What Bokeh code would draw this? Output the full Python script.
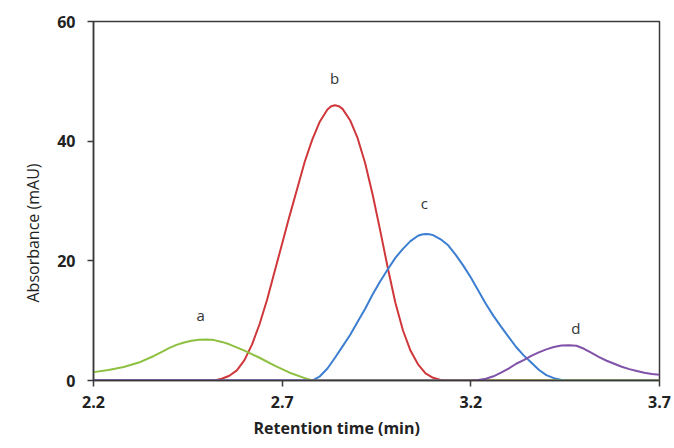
from bokeh.plotting import figure
from bokeh.models import Range1d, FixedTicker, Label, Title
from bokeh.embed import file_html
from bokeh.resources import INLINE

# ---- data ----
green_x = [2.20, 2.24, 2.28, 2.32, 2.36, 2.38, 2.40, 2.42, 2.44, 2.46, 2.48, 2.50, 2.52, 2.54, 2.56,
           2.60, 2.64, 2.68, 2.72, 2.76, 2.78, 3.70]
green_y = [1.4, 1.75, 2.25, 3.0, 4.1, 4.75, 5.4, 5.95, 6.35, 6.65, 6.8, 6.85, 6.75, 6.45, 6.05,
           5.0, 3.8, 2.5, 1.3, 0.4, 0.0, 0.0]

red_x = [2.20, 2.52, 2.54, 2.56, 2.58, 2.60, 2.62, 2.64, 2.66, 2.68, 2.70, 2.72, 2.74, 2.76, 2.78, 2.80,
         2.82, 2.83, 2.84, 2.85, 2.86, 2.88, 2.90, 2.92, 2.94, 2.96, 2.98, 3.00, 3.02, 3.04, 3.06, 3.08,
         3.10, 3.12, 3.13, 3.70]
red_y = [0.0, 0.0, 0.3, 0.8, 1.7, 3.4, 6.0, 9.4, 13.5, 18.2, 22.9, 27.6, 32.1, 36.6, 40.3, 43.3,
         45.3, 45.85, 46.0, 45.85, 45.4, 43.5, 40.5, 36.3, 31.0, 25.0, 18.8, 13.0, 8.4, 5.0, 2.7, 1.2,
         0.45, 0.1, 0.0, 0.0]

blue_x = [2.20, 2.78, 2.80, 2.82, 2.84, 2.86, 2.88, 2.90, 2.92, 2.94, 2.96, 2.98, 3.00, 3.02, 3.04, 3.06,
          3.07, 3.08, 3.09, 3.10, 3.12, 3.14, 3.16, 3.18, 3.20, 3.22, 3.24, 3.26, 3.28, 3.30, 3.32, 3.34,
          3.36, 3.38, 3.40, 3.42, 3.44, 3.45, 3.70]
blue_y = [0.0, 0.0, 0.7, 2.0, 3.8, 5.7, 7.6, 9.8, 12.0, 14.4, 16.6, 18.6, 20.5, 22.0, 23.3, 24.2,
          24.4, 24.5, 24.45, 24.3, 23.6, 22.6, 21.0, 19.2, 17.2, 15.0, 12.8, 10.8, 9.0, 7.3, 5.6, 4.2,
          3.0, 1.8, 0.9, 0.4, 0.1, 0.0, 0.0]

purple_x = [2.20, 3.20, 3.22, 3.24, 3.26, 3.28, 3.30, 3.32, 3.34, 3.36, 3.38, 3.40, 3.42, 3.44, 3.46,
            3.48, 3.50, 3.52, 3.54, 3.56, 3.58, 3.60, 3.62, 3.64, 3.66, 3.68, 3.70]
purple_y = [0.0, 0.0, 0.1, 0.3, 0.7, 1.3, 2.0, 2.8, 3.4, 4.1, 4.7, 5.2, 5.6, 5.85, 5.9,
            5.8, 5.3, 4.6, 3.9, 3.3, 2.8, 2.3, 1.9, 1.6, 1.3, 1.1, 0.95]

peak_labels = ["a", "b", "c", "d"]
peak_label_x = [2.484, 2.839, 3.077, 3.478]
peak_label_y = [10.9, 50.6, 29.6, 8.7]

x_ticks = [2.2, 2.7, 3.2, 3.7]
y_ticks = [0, 20, 40, 60]
x_title = "Retention time (min)"
y_title = "Absorbance (mAU)"

FONT = "Open Sans"
AXIS_COLOR = "#3a3a3a"

p = figure(width=674, height=448, output_backend="svg", toolbar_location=None,
           x_range=Range1d(2.2, 3.7), y_range=Range1d(0, 60))
p.min_border_left = 93
p.min_border_right = 15
p.min_border_top = 21
p.min_border_bottom = 68
p.background_fill_color = "white"
p.border_fill_color = "white"
p.outline_line_color = AXIS_COLOR
p.outline_line_width = 1.5
p.xgrid.visible = False
p.ygrid.visible = False

for ax in (p.xaxis[0], p.yaxis[0]):
    ax.axis_line_color = AXIS_COLOR
    ax.axis_line_width = 1.5
    ax.major_tick_line_color = AXIS_COLOR
    ax.major_tick_line_width = 1.5
    ax.major_tick_in = 0
    ax.major_tick_out = 6
    ax.minor_tick_line_color = None
    ax.major_label_text_font = FONT
    ax.major_label_text_font_style = "bold"
    ax.major_label_text_font_size = "16px"
    ax.major_label_text_color = "#222222"

p.xaxis[0].ticker = FixedTicker(ticks=x_ticks)
p.yaxis[0].ticker = FixedTicker(ticks=y_ticks)
p.xaxis[0].major_label_standoff = 9
p.yaxis[0].major_label_standoff = 12

p.line(red_x, red_y, line_color="#D0373B", line_width=2)
p.line(blue_x, blue_y, line_color="#3C7ED0", line_width=2)
p.line(green_x, green_y, line_color="#8DC040", line_width=2)
p.line(purple_x, purple_y, line_color="#8052A8", line_width=2)

for t, lx, ly in zip(peak_labels, peak_label_x, peak_label_y):
    p.add_layout(Label(x=lx, y=ly, text=t, text_align="center", text_baseline="middle",
                       text_font=FONT, text_font_size="15px", text_color="#333333"))

p.add_layout(Title(text=x_title, align="left", offset=160, standoff=12, vertical_align="top",
                   text_font=FONT, text_font_size="16px", text_font_style="bold",
                   text_color="#222222"), "below")
p.add_layout(Title(text=y_title, align="left", offset=78, standoff=18, vertical_align="top",
                   text_font=FONT, text_font_size="16px", text_font_style="normal",
                   text_color="#222222"), "left")

open("out.html", "w").write(file_html(p, INLINE))
